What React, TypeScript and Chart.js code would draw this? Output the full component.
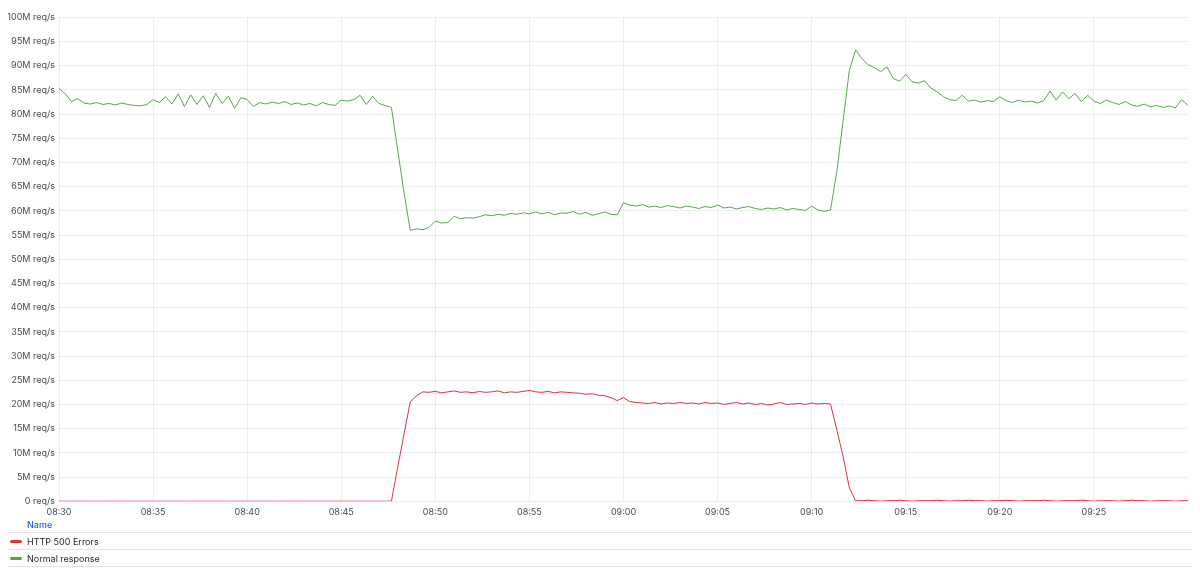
import React, { useEffect, useRef } from "react";
import { Chart, registerables } from "chart.js";

Chart.register(...registerables);

// one sample every 20 seconds, starting at 08:30
const startMinute = 8 * 60 + 30;
const stepSeconds = 20;

// HTTP 500 Errors, M req/s
const errorValues = [
  0, 0, 0, 0, 0, 0, 0, 0, 0, 0, 0, 0, 0, 0, 0, 0, 0, 0, 0, 0,
  0, 0, 0, 0, 0, 0, 0, 0, 0, 0, 0, 0, 0, 0, 0, 0, 0, 0, 0, 0,
  0, 0, 0, 0, 0, 0, 0, 0, 0, 0, 0, 0, 0, 0,
  7.0, 13.8, 20.5, 21.8, 22.6,
  22.5, 22.7, 22.4, 22.6, 22.8, 22.5, 22.6, 22.4, 22.7, 22.5, 22.6, 22.8,
  22.4, 22.6, 22.5, 22.7, 22.9, 22.6, 22.5, 22.7, 22.4, 22.6, 22.5, 22.4,
  22.3, 22.1, 22.2, 21.9, 21.8, 21.4, 20.8, 21.4, 20.6, 20.4,
  20.3, 20.2, 20.4, 20.1, 20.3, 20.2, 20.4, 20.2, 20.3, 20.1, 20.4, 20.2,
  20.3, 20.0, 20.2, 20.4, 20.1, 20.3, 20.0, 20.2, 19.9, 20.1, 20.4, 20.0,
  20.1, 20.2, 20.0, 20.3, 20.1, 20.2,
  20.1, 14.8, 9.3, 2.8, 0.1,
  0.1, 0.2, 0.1, 0.0, 0.1, 0.1, 0.2, 0.1, 0.0, 0.1, 0.1, 0.1, 0.2, 0.1,
  0.0, 0.1, 0.1, 0.2, 0.1, 0.1, 0.0, 0.1, 0.1, 0.2, 0.1, 0.0, 0.1, 0.1,
  0.1, 0.2, 0.1, 0.0, 0.1, 0.1, 0.1, 0.2, 0.1, 0.0, 0.1, 0.1, 0.1, 0.0,
  0.1, 0.2, 0.1, 0.1, 0.0, 0.1, 0.1, 0.1, 0.0, 0.1, 0.1,
];

// Normal response, M req/s
const normalValues = [
  85.3, 84.2, 82.6, 83.2, 82.3, 82.1, 82.4, 82.0, 82.2, 81.9, 82.3, 82.0,
  81.8, 81.7, 82.0, 83.0, 82.4, 83.6, 82.1, 84.2, 81.6, 84.0, 82.0, 83.8,
  81.4, 84.3, 82.2, 83.7, 81.2, 83.4, 83.0, 81.6, 82.4, 82.1, 82.5, 82.2,
  82.6, 82.0, 82.3, 81.9, 82.2, 81.7, 82.4, 82.0, 81.8, 82.9, 82.7, 83.0,
  83.9, 82.0, 83.7, 82.2, 81.8, 81.4,
  72.6, 63.8, 56.0, 56.3, 56.1, 56.6, 57.9, 57.5, 57.6, 58.9,
  58.4, 58.6, 58.5, 58.8, 59.2, 59.0, 59.3, 59.1, 59.5, 59.3, 59.6, 59.4,
  59.8, 59.4, 59.7, 59.2, 59.6, 59.5, 59.9, 59.3, 59.7, 59.1, 59.4, 59.8,
  59.3, 59.2,
  61.7, 61.2, 61.0, 61.3, 60.8, 61.0, 60.7, 61.1, 60.9, 60.6, 61.0, 60.8,
  60.5, 60.9, 60.7, 61.2, 60.6, 60.8, 60.4, 60.7, 60.9, 60.5, 60.3, 60.6,
  60.4, 60.7, 60.2, 60.5, 60.3, 60.1, 61.0, 60.2, 59.9, 60.2,
  68.0, 78.5, 89.0, 93.3, 91.5, 90.2, 89.6, 88.8, 89.8, 87.4, 86.8, 88.2,
  86.7, 86.4, 86.9, 85.4, 84.6, 83.6, 83.0, 82.8, 83.9, 82.7, 82.9, 82.5,
  82.8, 82.6, 83.6, 82.8, 82.4, 82.9, 82.5, 82.7, 82.3, 82.8, 84.8, 82.9,
  84.6, 83.2, 84.3, 82.6, 83.9, 82.7, 82.2, 82.9, 82.4, 82.0, 82.6, 81.9,
  81.6, 82.1, 81.5, 81.8, 81.4, 81.7, 81.3, 83.0, 81.8,
];

const seriesNames = ["HTTP 500 Errors", "Normal response"];
const seriesColors = ["#E02F44", "#56A64B"];

const FONT = "Inter, 'Noto Sans', sans-serif";
const FONT_SIZE = 9;

const toPoints = (values: number[]) =>
  values.map((y, i) => ({ x: (i * stepSeconds) / 60, y }));

const formatTime = (offset: number): string => {
  const total = startMinute + offset;
  const h = Math.floor(total / 60);
  const m = Math.round(total % 60);
  return `${String(h).padStart(2, "0")}:${String(m).padStart(2, "0")}`;
};

const App: React.FC = () => {
  const canvasRef = useRef<HTMLCanvasElement>(null);
  const chartRef = useRef<Chart | null>(null);

  useEffect(() => {
    if (!canvasRef.current) return;
    const ctx = canvasRef.current.getContext("2d");
    if (!ctx) return;

    chartRef.current = new Chart(ctx, {
      type: "line",
      data: {
        datasets: [
          {
            label: seriesNames[0],
            data: toPoints(errorValues),
            borderColor: seriesColors[0],
            borderWidth: 1,
            pointRadius: 0,
            tension: 0,
          },
          {
            label: seriesNames[1],
            data: toPoints(normalValues),
            borderColor: seriesColors[1],
            borderWidth: 1,
            pointRadius: 0,
            tension: 0,
          },
        ],
      },
      options: {
        animation: false,
        responsive: true,
        maintainAspectRatio: false,
        layout: { padding: { top: 5, right: 4, left: 0, bottom: 0 } },
        plugins: {
          legend: { display: false },
          tooltip: { enabled: false },
        },
        scales: {
          x: {
            type: "linear",
            min: 0,
            max: 60,
            border: { display: false },
            grid: { color: "rgba(0,0,0,0.07)", drawTicks: false },
            ticks: {
              stepSize: 5,
              padding: 6,
              color: "#464c54",
              font: { family: FONT, size: FONT_SIZE },
              maxRotation: 0,
              callback: (v) => (Number(v) >= 60 ? null : formatTime(Number(v))),
            },
          },
          y: {
            min: 0,
            max: 100,
            border: { display: false },
            grid: { color: "rgba(0,0,0,0.07)", drawTicks: false },
            afterFit: (scale) => {
              scale.width = 51;
            },
            ticks: {
              stepSize: 5,
              padding: 4,
              color: "#464c54",
              font: { family: FONT, size: FONT_SIZE },
              callback: (v) => (Number(v) === 0 ? "0 req/s" : `${v}M req/s`),
            },
          },
        },
      },
    });

    return () => {
      chartRef.current?.destroy();
      chartRef.current = null;
    };
  }, []);

  const rowStyle: React.CSSProperties = {
    display: "flex",
    alignItems: "center",
    height: 16,
    borderBottom: "1px solid #e4e4e7",
    fontSize: FONT_SIZE,
    color: "#24292e",
  };

  return (
    <div style={{ fontFamily: FONT }}>
      <div style={{ width: "100%", height: 516 }}>
        <canvas ref={canvasRef}></canvas>
      </div>
      <div style={{ marginTop: -8 }}>
        <div style={{ ...rowStyle, color: "#1F60C4", fontWeight: 500 }}>
          <span style={{ marginLeft: 19 }}>Name</span>
        </div>
        {seriesNames.map((name, i) => (
          <div key={name} style={rowStyle}>
            <span
              style={{
                display: "inline-block",
                width: 12,
                height: 3,
                borderRadius: 2,
                background: seriesColors[i],
                marginLeft: 2,
                marginRight: 5,
              }}
            ></span>
            <span>{name}</span>
          </div>
        ))}
      </div>
    </div>
  );
};

export default App;
